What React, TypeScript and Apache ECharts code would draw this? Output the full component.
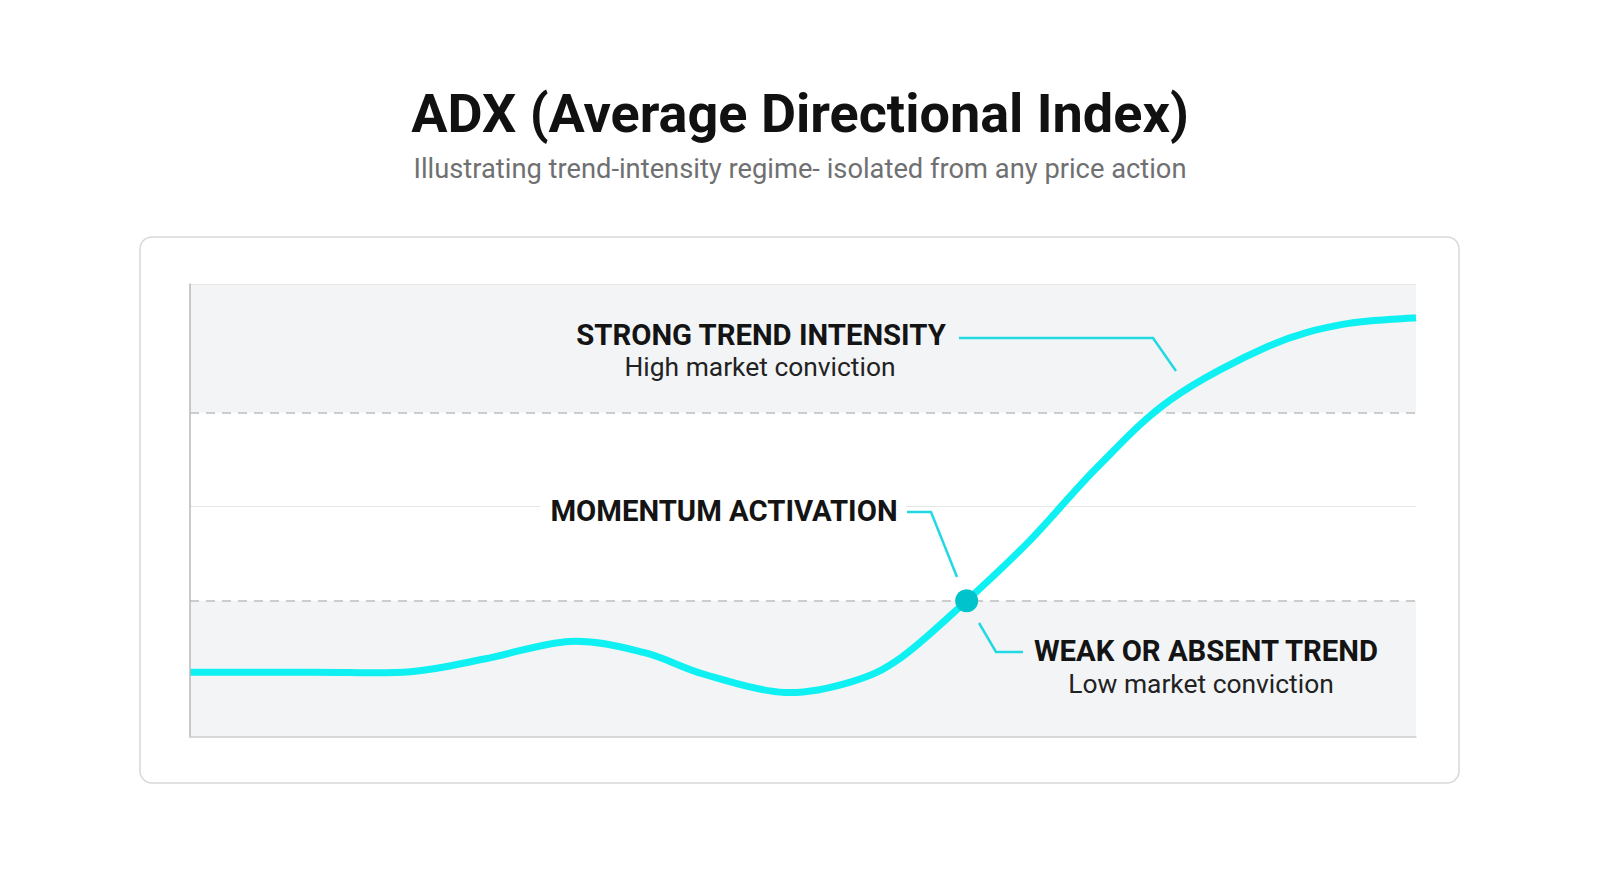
import React, { useEffect, useRef } from "react";
import * as echarts from "echarts";

// ---- data ----
const xPositions = [0, 10, 18, 24, 31, 37, 42, 48.5, 54, 58, 63.35, 68.5, 74, 80, 88, 94, 100];
const adxValues = [12.4, 12.4, 12.45, 13.8, 15.67, 14.5, 12.15, 10.24, 11.4, 13.95, 20.0, 26.4, 34.2, 41.4, 47.1, 49.4, 50.1];
const crossingPoint = [63.35, 20];
const weakLevel = 20;
const midLevel = 30;
const strongLevel = 40;
const yMin = 5.5;
const yMax = 53.7;
const xMin = 0;
const xMax = 100;

const titleText = "ADX (Average Directional Index)";
const subtitleText = "Illustrating trend-intensity regime- isolated from any price action";
const strongTitle = "STRONG TREND INTENSITY";
const strongSub = "High market conviction";
const momentumTitle = "MOMENTUM ACTIVATION";
const weakTitle = "WEAK OR ABSENT TREND";
const weakSub = "Low market conviction";

const FONT = "Roboto, 'Noto Sans', sans-serif";
const CYAN = "#0ef0f2";
const LEADER = "#22d9e3";

export default function App() {
  const ref = useRef<HTMLDivElement>(null);
  useEffect(() => {
    if (!ref.current) return;
    const chart = echarts.init(ref.current, undefined, { renderer: "svg" });
    const lineData = xPositions.map((x, i) => [x, adxValues[i]]);
    const txt = (text: string, x: number, y: number, size: number, weight: string | number, fill: string, align = "center", z = 60) => ({
      type: "text",
      z,
      x,
      y,
      style: { text, font: `${weight} ${size}px ${FONT}`, fill, align, verticalAlign: "middle" },
    });
    const leader = (pts: number[][]) => ({
      type: "polyline",
      z: 55,
      shape: { points: pts },
      style: { stroke: LEADER, lineWidth: 2.5, fill: null },
    });
    const renderCurve = (params: any, api: any) => {
      if (params.dataIndex !== 0) return { type: "group", children: [] };
      const p = lineData.map((d) => api.coord(d));
      const n = p.length;
      let d = `M${p[0][0]},${p[0][1]}`;
      for (let i = 0; i < n - 1; i++) {
        const p0 = p[Math.max(0, i - 1)];
        const p1 = p[i];
        const p2 = p[i + 1];
        const p3 = p[Math.min(n - 1, i + 2)];
        const c1x = p1[0] + (p2[0] - p0[0]) / 6;
        const c1y = p1[1] + (p2[1] - p0[1]) / 6;
        const c2x = p2[0] - (p3[0] - p1[0]) / 6;
        const c2y = p2[1] - (p3[1] - p1[1]) / 6;
        d += ` C${c1x},${c1y} ${c2x},${c2y} ${p2[0]},${p2[1]}`;
      }
      return {
        type: "path",
        shape: { pathData: d },
        style: { stroke: CYAN, lineWidth: 7, fill: "none", lineJoin: "round" },
      };
    };
    chart.setOption({
      animation: false,
      backgroundColor: "#ffffff",
      grid: { left: 190, right: 184, top: 284, bottom: 156 },
      xAxis: {
        type: "value",
        min: xMin,
        max: xMax,
        z: 10,
        axisLine: { show: true, lineStyle: { color: "#cdcdcd", width: 1.5 } },
        axisTick: { show: false },
        axisLabel: { show: false },
        splitLine: { show: false },
      },
      yAxis: {
        type: "value",
        min: yMin,
        max: yMax,
        z: 10,
        axisLine: { show: true, lineStyle: { color: "#b9b9b9", width: 1.5 } },
        axisTick: { show: false },
        axisLabel: { show: false },
        splitLine: { show: false },
      },
      graphic: [
        {
          type: "rect",
          z: -10,
          shape: { x: 140, y: 237, width: 1319, height: 546, r: 12 },
          style: { fill: "#ffffff", stroke: "#d8d8d8", lineWidth: 1.5 },
        },
        {
          type: "rect",
          z: 50,
          shape: { x: 540, y: 496, width: 366, height: 32 },
          style: { fill: "#ffffff" },
        },
        txt(titleText, 800, 113, 54, "bold", "#111111"),
        txt(subtitleText, 800, 169, 27.3, "normal", "#6f7072"),
        txt(strongTitle, 761, 335, 29.3, "bold", "#141414"),
        txt(strongSub, 760, 367, 26.4, "normal", "#222222"),
        txt(momentumTitle, 724, 511, 29.3, "bold", "#141414"),
        txt(weakTitle, 1206, 651, 29.3, "bold", "#141414"),
        txt(weakSub, 1201, 684, 26.4, "normal", "#222222"),
        leader([[959, 338], [1153, 338], [1176, 371]]),
        leader([[907, 512], [931, 512], [957, 577]]),
        leader([[979, 623], [996, 652], [1023, 652]]),
      ],
      series: [
        {
          type: "line",
          name: "bands",
          data: [],
          z: 1,
          silent: true,
          markArea: {
            silent: true,
            itemStyle: { color: "#f3f4f6" },
            data: [
              [{ yAxis: yMin }, { yAxis: weakLevel }],
              [{ yAxis: strongLevel }, { yAxis: yMax }],
            ],
          },
          markLine: {
            silent: true,
            symbol: "none",
            label: { show: false },
            data: [
              { yAxis: weakLevel, lineStyle: { color: "#bdbdbd", type: [9, 7], width: 1.5 } },
              { yAxis: strongLevel, lineStyle: { color: "#bdbdbd", type: [9, 7], width: 1.5 } },
              { yAxis: midLevel, lineStyle: { color: "#e6e6e6", type: "solid", width: 1.2 } },
              { yAxis: yMax, lineStyle: { color: "#e6e6e6", type: "solid", width: 1.2 } },
            ],
          },
        },
        {
          type: "custom",
          name: "ADX",
          data: lineData,
          encode: { x: 0, y: 1 },
          z: 5,
          silent: true,
          renderItem: renderCurve,
        },
        {
          type: "scatter",
          name: "crossing",
          data: [crossingPoint],
          symbolSize: 23,
          z: 8,
          itemStyle: { color: "#00c3cc", opacity: 1 },
        },
      ],
    });
    return () => chart.dispose();
  }, []);
  return <div ref={ref} style={{ position: "fixed", left: 0, top: 0, width: 1600, height: 893 }} />;
}
